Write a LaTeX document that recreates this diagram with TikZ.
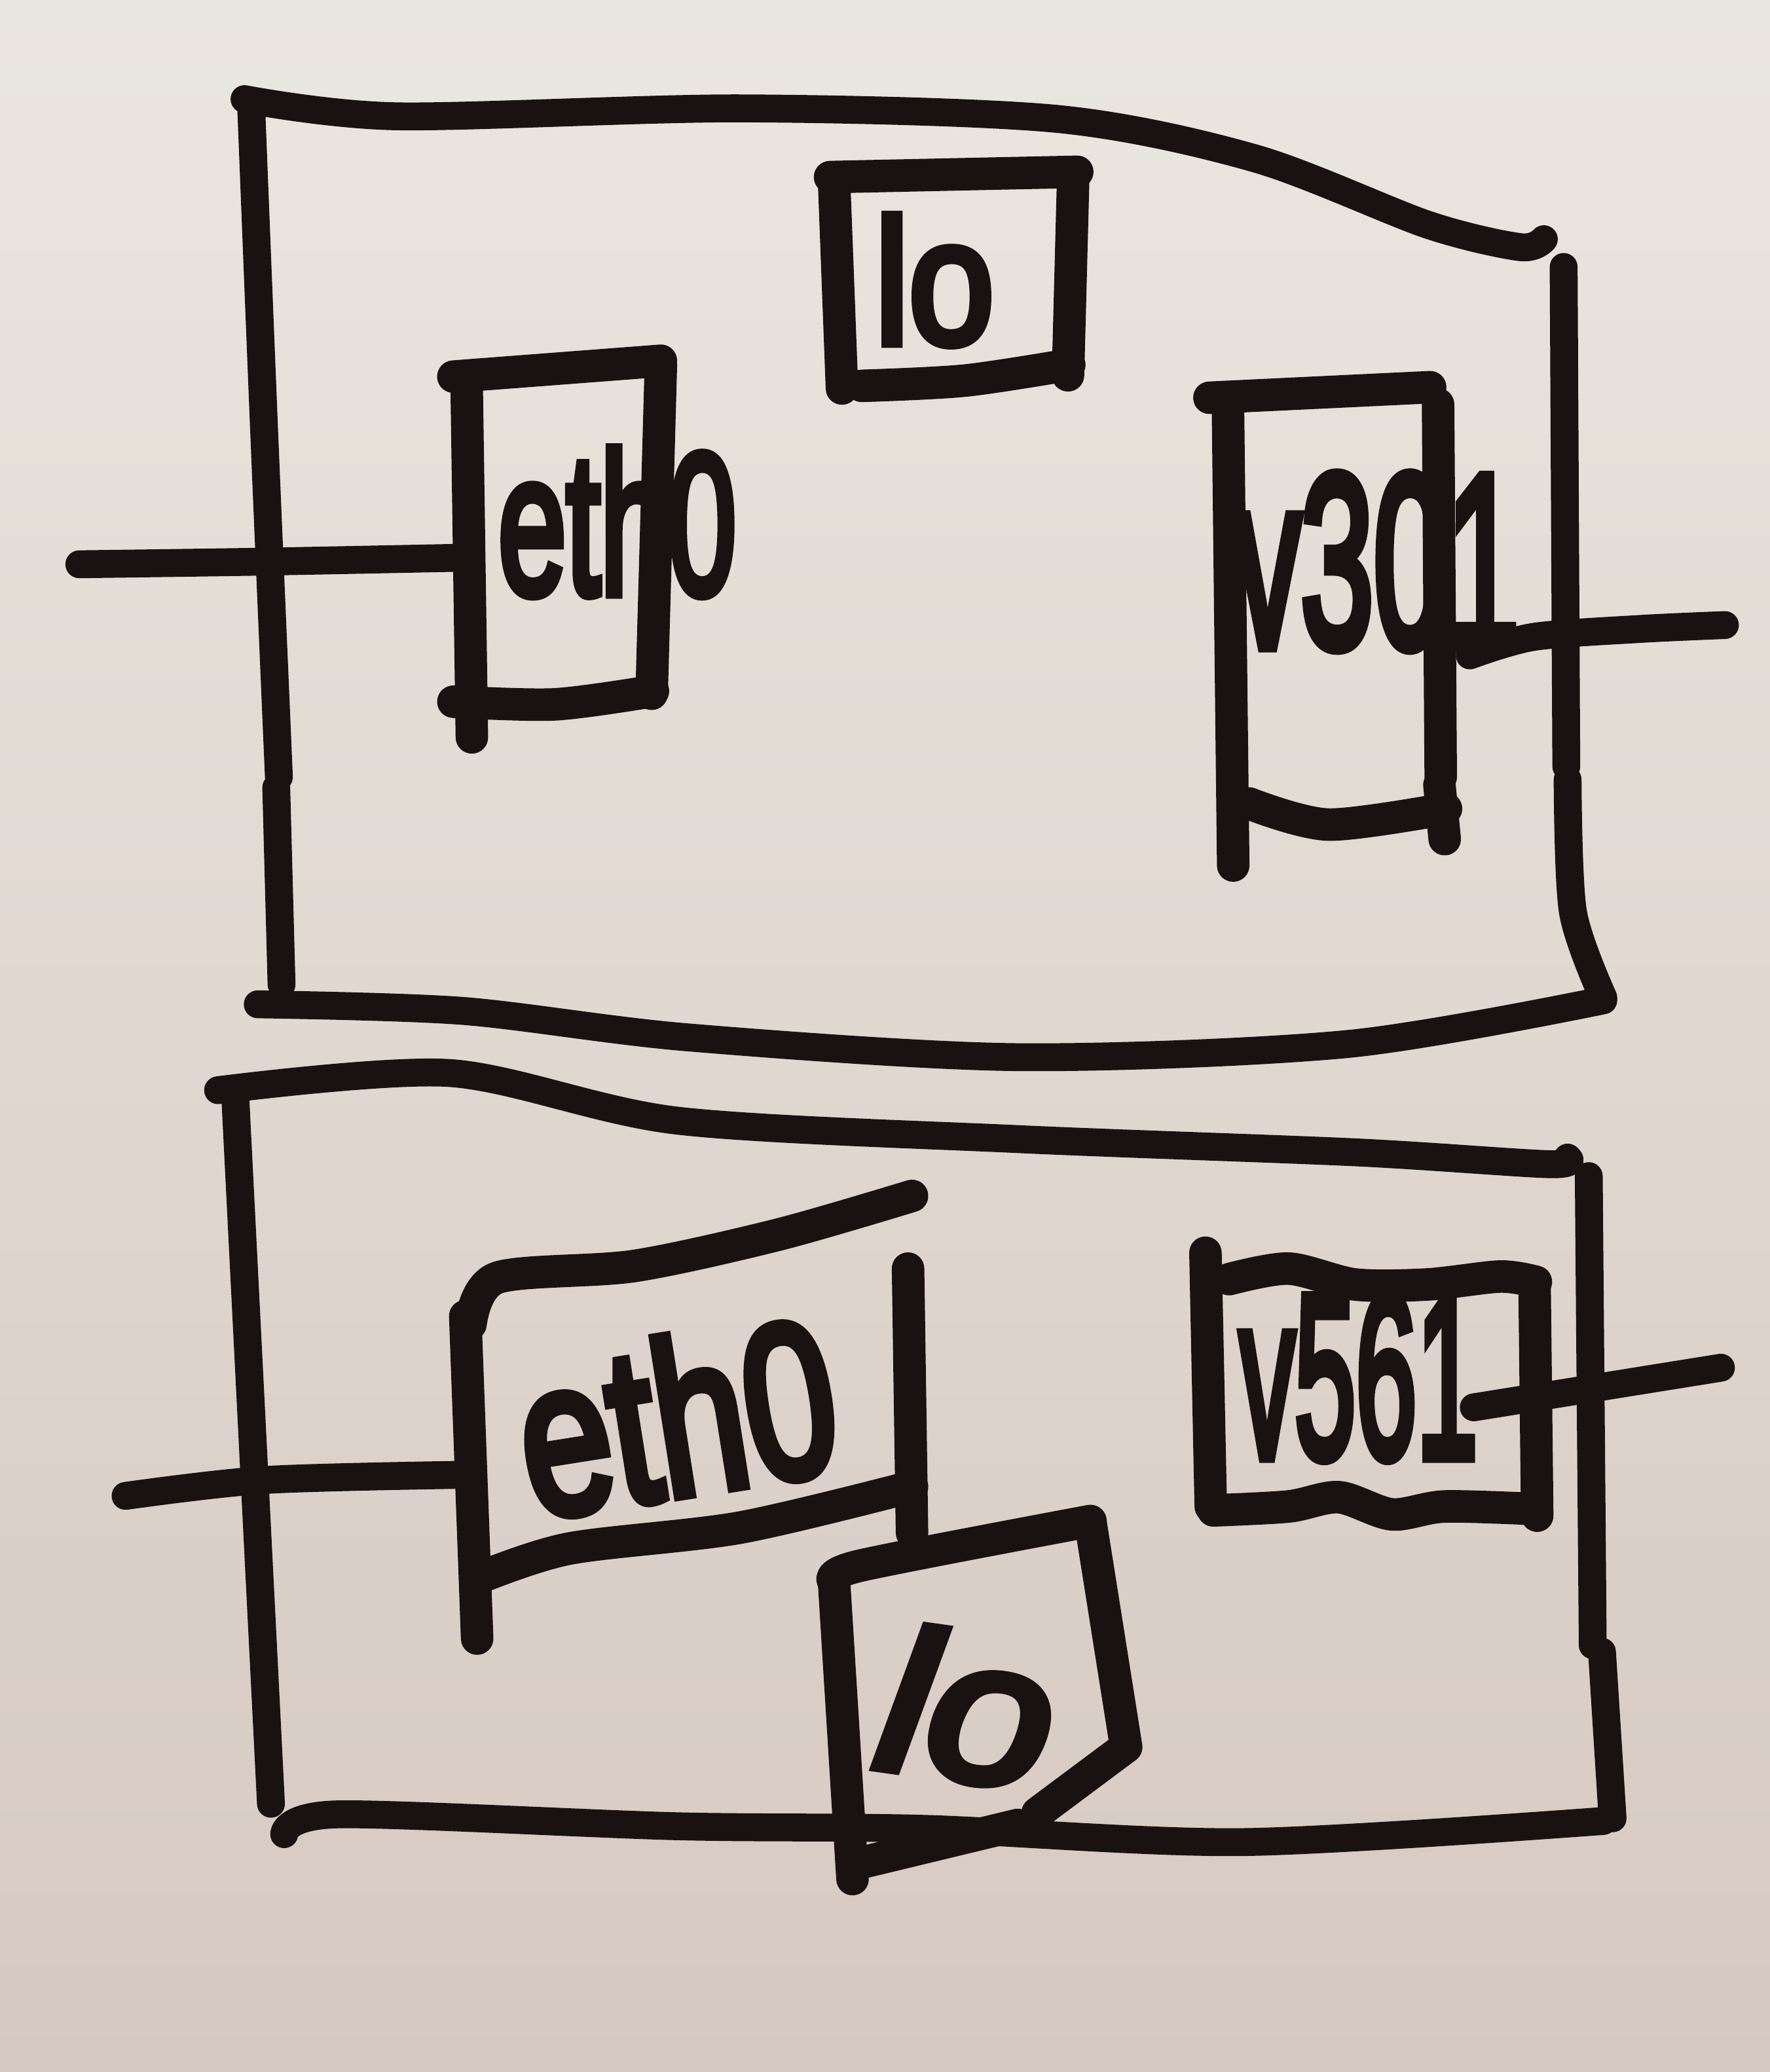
\documentclass[tikz,border=0pt]{standalone}
\usepackage{fontspec}
\setmainfont{Liberation Sans}
\newfontfamily\heavy{Liberation Sans}[UprightFont=*, UprightFeatures={FakeBold=5}, BoldFont=*]
\newfontfamily\heavyit{Liberation Sans}[UprightFont=* Italic, UprightFeatures={FakeBold=5}]
\usepackage{graphicx}
\definecolor{ink}{RGB}{26,18,16}
\definecolor{paperTop}{RGB}{234,230,224}
\definecolor{paperBot}{RGB}{214,201,193}
\begin{document}
\begin{tikzpicture}[x=0.1mm,y=-0.1mm,
  pen/.style={draw=ink,line width=6pt,line cap=round,line join=round},
  boxpen/.style={draw=ink,line width=7pt,line cap=round,line join=round},
  lab/.style={text=ink,inner sep=0pt,outer sep=0pt}]
\useasboundingbox (0,0) rectangle (1339,1568);
\shade[top color=paperTop,bottom color=paperBot] (0,0) rectangle (1339,1568);

% ---------------- top outer box ----------------
\draw[pen] plot[smooth] coordinates {(185,75) (300,88) (560,82) (800,90) (950,120) (1080,170) (1150,187) (1168,181)};
\draw[pen] plot[smooth] coordinates {(190,80) (200,330) (211,588)};
\draw[pen] (209,596) -- (213,745);
\draw[pen] (1183,202) -- (1185,580);
\draw[pen] plot[smooth] coordinates {(1186,590) (1190,690) (1213,755)};
\draw[pen] plot[smooth] coordinates {(195,760) (350,765) (520,785) (770,800) (1020,790) (1213,757)};

% top eth0 box
\draw[boxpen] (343,285) -- (500,273);
\draw[boxpen] (353,287) -- (357,558);
\draw[boxpen] (500,276) -- (493,525);
\draw[boxpen] plot[smooth] coordinates {(343,531) (420,533) (494,523)};
\coordinate (ethTw) at (352,422);
\node[lab] (ethT) at (467,395) {\resizebox{18mm}{11mm}{\heavy eth0}};
\coordinate (cTL) at (60,427);
\draw[pen] plot[smooth] coordinates {(cTL) (200,425) (ethTw)};

% top lo box
\draw[boxpen] (628,134) -- (815,130);
\draw[boxpen] (631,136) -- (637,294);
\draw[boxpen] (812,132) -- (808,284);
\draw[boxpen] plot[smooth] coordinates {(652,292) (730,288) (809,276)};
\node[lab] (loT) at (707,212) {\resizebox{9mm}{9.7mm}{\heavy lo}};

% top v301 box
\draw[boxpen] (915,301) -- (1082,293);
\draw[boxpen] (929,305) -- (933,655);
\draw[boxpen] (1088,306) -- (1090,588);
\draw[boxpen] (1089,594) -- (1093,635);
\draw[boxpen] plot[smooth] coordinates {(945,608) (1005,624) (1094,612)};
\node[lab] (vT) at (1042,425) {\resizebox{21.5mm}{13mm}{\heavy v301}};
\coordinate (vTe) at (1112,496);
\coordinate (cTR) at (1305,473);
\draw[pen] plot[smooth] coordinates {(vTe) (1160,482) (1240,476) (cTR)};

% ---------------- bottom outer box ----------------
\draw[pen] plot[smooth] coordinates {(165,825) (340,812) (512,848) (770,862) (1025,872) (1172,881) (1186,876)};
\draw[pen] (178,830) -- (205,1365);
\draw[pen] (1202,890) -- (1205,1245);
\draw[pen] (1212,1250) -- (1220,1376);
\draw[pen] plot[smooth] coordinates {(215,1388) (256,1373) (512,1382) (700,1384) (940,1394) (1213,1378)};

% bottom eth0 box
\draw[boxpen] (352,996) -- (361,1240);
\draw[boxpen] plot[smooth] coordinates {(356,1002) (376,967) (480,958) (590,934) (690,905)};
\draw[boxpen] (687,960) -- (690,1160);
\draw[boxpen] plot[smooth] coordinates {(360,1195) (430,1172) (560,1156) (690,1125)};
\coordinate (ethBw) at (352,1116);
\node[lab,rotate=9] (ethB) at (512,1072) {\resizebox{24mm}{12mm}{\heavy eth0}};
\coordinate (cBL) at (95,1132);
\draw[pen] plot[smooth] coordinates {(cBL) (200,1120) (ethBw)};

% bottom lo box
\draw[boxpen] (631,1197) -- (645,1422);
\draw[boxpen] plot[smooth] coordinates {(631,1197) (650,1185) (825,1151)};
\draw[boxpen] (825,1152) -- (852,1322) -- (785,1372);
\draw[boxpen] (650,1410) -- (770,1381);
\node[lab,rotate=-8] (loB) at (732,1292) {\resizebox{13mm}{11mm}{\heavyit lo}};

% bottom v561 box
\draw[boxpen] (912,948) -- (916,1140);
\draw[boxpen] plot[smooth] coordinates {(930,968) (975,960) (1025,972) (1080,972) (1135,966) (1162,970)};
\draw[boxpen] (1161,972) -- (1163,1147);
\draw[boxpen] plot[smooth] coordinates {(918,1143) (975,1140) (1013,1133) (1053,1146) (1093,1140) (1162,1142)};
\node[lab] (vB) at (1028,1042) {\resizebox{18mm}{12.3mm}{\heavy v561}};
\coordinate (vBe) at (1115,1065);
\coordinate (cBR) at (1302,1035);
\draw[pen] (vBe) -- (cBR);
\end{tikzpicture}
\end{document}
